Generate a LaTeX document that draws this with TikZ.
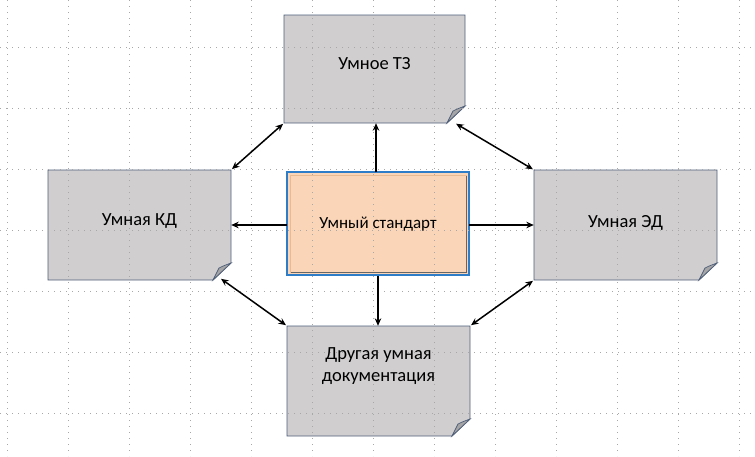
\documentclass[tikz,border=0pt]{standalone}
\usepackage{fontspec}
\setmainfont{Carlito}
\usetikzlibrary{arrows.meta,calc}
\definecolor{boxgray}{HTML}{D0CECE}
\definecolor{boxedge}{HTML}{4F5F7A}
\definecolor{flapgray}{HTML}{A5A5A5}
\definecolor{peach}{HTML}{FBD5B7}
\definecolor{peachedge}{HTML}{2E7DC8}
\definecolor{griddot}{HTML}{A8A8A8}
% fold-corner box: #1 = x left, #2 = y top, #3 = x right, #4 = y bottom
\newcommand\foldbox[4]{%
  \filldraw[boxstyle] (#1,#2) -- (#3,#2) -- (#3,#4-17) -- (#3-18,#4) -- (#1,#4) -- cycle;
  \filldraw[flapstyle] (#3-18,#4) .. controls (#3-14,#4-8) .. (#3-12,#4-12) .. controls (#3-8,#4-14) .. (#3,#4-17) -- cycle;
}
\begin{document}
\begin{tikzpicture}[x=1pt,y=-1pt,
  boxstyle/.style={fill=boxgray,draw=boxedge,line width=0.9pt,line join=miter},
  flapstyle/.style={fill=flapgray,draw=boxedge,line width=0.7pt},
  gridline/.style={griddot,line width=0.9pt,dash pattern=on 1pt off 5pt},
  label/.style={font=\fontsize{18.5}{22}\selectfont,align=center,inner sep=0pt,
     text height=12pt,text depth=12pt},
  docnode/.style={draw=none,inner sep=0pt},
  arr/.style={-{Stealth[length=7.5pt,width=6.5pt]},line width=1.5pt,black},
  biarr/.style={{Stealth[length=7.5pt,width=6.5pt]}-{Stealth[length=7.5pt,width=6.5pt]},line width=1.5pt,black}]
\useasboundingbox (0,0) rectangle (755,456);
\fill[white] (0,0) rectangle (755,456);

% boxes
\foldbox{284}{15}{465}{123}
\foldbox{48}{170}{231}{280}
\foldbox{534}{170}{717}{280}
\foldbox{287}{326}{470}{436}
\filldraw[fill=peach,draw=peachedge,line width=1.8pt] (287,172) rectangle (469,275);
\draw[peach!70!brown,line width=0.6pt] (290,175) rectangle (466,272);
\draw[gray!80!black,line width=0.8pt] (466,176) -- (466,272) -- (291,272);

% grid
\foreach \k in {0,...,12} \draw[gridline] (7+61*\k,0) -- (7+61*\k,456);
\foreach \k in {0,...,6} \draw[gridline] (0,47+61*\k) -- (755,47+61*\k);

% nodes
\node[docnode,minimum width=181pt,minimum height=108pt] (tz) at (374.5,69) {};
\node[docnode,minimum width=183pt,minimum height=110pt] (kd) at (139.5,225) {};
\node[docnode,minimum width=183pt,minimum height=110pt] (ed) at (625.5,225) {};
\node[docnode,minimum width=183pt,minimum height=110pt] (doc) at (378.5,381) {};
\node[docnode,minimum width=182pt,minimum height=103pt,font=\fontsize{17}{20}\selectfont] (c) at (378,224) {Умный стандарт};
\node[label] at (tz.center) {Умное ТЗ};
\node[label] at (kd.center) {Умная КД};
\node[label] at ($(ed.center)+(0,2)$) {Умная ЭД};
\node[label] at (doc.center) {Другая умная\\документация};

% connectors
\draw[arr] (c.north -| 376,0) -- (tz.south -| 376,0);
\draw[arr] (c.south) -- (c.south |- doc.north);
\draw[arr] (c.west |- kd.east) -- (kd.east);
\draw[arr] (c.east |- ed.west) -- (ed.west);
\draw[biarr,shorten <=1pt,shorten >=1pt] (kd.north east) -- (tz.south west);
\draw[biarr,shorten <=1pt,shorten >=1pt] ($(tz.south east)+(-10,0)$) -- (ed.north west);
\draw[biarr,shorten <=1pt,shorten >=1pt] ($(kd.south east)+(-11,-2)$) -- (doc.north west);
\draw[biarr,shorten <=1pt,shorten >=1pt] (ed.south west) -- (doc.north east);
\end{tikzpicture}
\end{document}
